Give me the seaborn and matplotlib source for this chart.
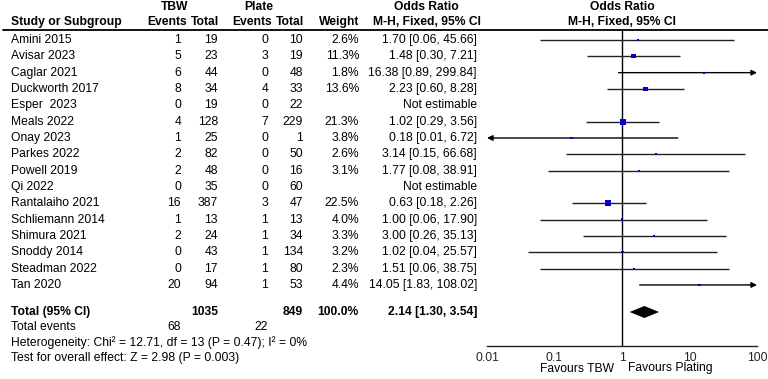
import numpy as np
import pandas as pd
import matplotlib
matplotlib.use('Agg')
import matplotlib.pyplot as plt
from matplotlib.ticker import NullLocator
import seaborn as sns

studies = ['Amini 2015', 'Avisar 2023', 'Caglar 2021', 'Duckworth 2017', 'Esper  2023',
           'Meals 2022', 'Onay 2023', 'Parkes 2022', 'Powell 2019', 'Qi 2022',
           'Rantalaiho 2021', 'Schliemann 2014', 'Shimura 2021', 'Snoddy 2014',
           'Steadman 2022', 'Tan 2020']
tbw_events = [1, 5, 6, 8, 0, 4, 1, 2, 2, 0, 16, 1, 2, 0, 0, 20]
tbw_total = [19, 23, 44, 34, 19, 128, 25, 82, 48, 35, 387, 13, 24, 43, 17, 94]
plate_events = [0, 3, 0, 4, 0, 7, 0, 0, 0, 0, 3, 1, 1, 1, 1, 1]
plate_total = [10, 19, 48, 33, 22, 229, 1, 50, 16, 60, 47, 13, 34, 134, 80, 53]
weight = [2.6, 11.3, 1.8, 13.6, np.nan, 21.3, 3.8, 2.6, 3.1, np.nan, 22.5, 4.0, 3.3, 3.2, 2.3, 4.4]
odds = [1.70, 1.48, 16.38, 2.23, np.nan, 1.02, 0.18, 3.14, 1.77, np.nan, 0.63, 1.00, 3.00, 1.02, 1.51, 14.05]
ci_lo = [0.06, 0.30, 0.89, 0.60, np.nan, 0.29, 0.01, 0.15, 0.08, np.nan, 0.18, 0.06, 0.26, 0.04, 0.06, 1.83]
ci_hi = [45.66, 7.21, 299.84, 8.28, np.nan, 3.56, 6.72, 66.68, 38.91, np.nan, 2.26, 17.90, 35.13, 25.57, 38.75, 108.02]

total_weight = 100.0
pooled_or, pooled_lo, pooled_hi = 2.14, 1.30, 3.54
het_text = 'Heterogeneity: Chi² = 12.71, df = 13 (P = 0.47); I² = 0%'
test_text = 'Test for overall effect: Z = 2.98 (P = 0.003)'
axis_ticks = [0.01, 0.1, 1, 10, 100]
axis_labels = ['0.01', '0.1', '1', '10', '100']

sns.set_style('white')
plt.rcParams['font.family'] = ['Liberation Sans', 'DejaVu Sans']
FS = 8.7

W, H = 768, 379
fig = plt.figure(figsize=(W / 100, H / 100), dpi=100)

# table layer in pixel coords
tab = fig.add_axes([0, 0, 1, 1])
tab.set_xlim(0, W)
tab.set_ylim(H, 0)
tab.axis('off')

def txt(x, y, s, ha='right', bold=False):
    tab.text(x, y, s, ha=ha, va='center', fontsize=FS,
             fontweight='bold' if bold else 'normal', color='black')

# headers
txt(175, 7, 'TBW', 'center', True)
txt(259, 7, 'Plate', 'center', True)
txt(426, 7, 'Odds Ratio', 'center', True)
txt(622, 7, 'Odds Ratio', 'center', True)
txt(11, 22, 'Study or Subgroup', 'left', True)
txt(187, 22, 'Events', 'right', True)
txt(219, 22, 'Total', 'right', True)
txt(272, 22, 'Events', 'right', True)
txt(304, 22, 'Total', 'right', True)
txt(359, 22, 'Weight', 'right', True)
txt(481, 22, 'M-H, Fixed, 95% CI', 'right', True)
txt(622, 22, 'M-H, Fixed, 95% CI', 'center', True)
tab.plot([3, W], [29.5, 29.5], color='black', lw=1.3)

row_y = 40 + 16.33 * np.arange(len(studies))
for i, y in enumerate(row_y):
    txt(11, y, studies[i], 'left')
    txt(181, y, str(tbw_events[i]))
    txt(218, y, str(tbw_total[i]))
    txt(268, y, str(plate_events[i]))
    txt(303, y, str(plate_total[i]))
    if np.isnan(odds[i]):
        txt(477, y, 'Not estimable')
    else:
        txt(359, y, f'{weight[i]:.1f}%')
        txt(477, y, f'{odds[i]:.2f} [{ci_lo[i]:.2f}, {ci_hi[i]:.2f}]')

y_tot, y_ev, y_het, y_test = 312, 327.5, 343, 358.5
txt(11, y_tot, 'Total (95% CI)', 'left', True)
txt(218, y_tot, str(sum(tbw_total)), 'right', True)
txt(303, y_tot, str(sum(plate_total)), 'right', True)
txt(359, y_tot, f'{total_weight:.1f}%', 'right', True)
txt(477, y_tot, f'{pooled_or:.2f} [{pooled_lo:.2f}, {pooled_hi:.2f}]', 'right', True)
txt(11, y_ev, 'Total events', 'left')
txt(181, y_ev, str(sum(tbw_events)))
txt(268, y_ev, str(sum(plate_events)))
txt(11, y_het, het_text, 'left')
txt(11, y_test, test_text, 'left')

# forest panel
x0, x1, ytop, ybot = 487, 757, 29.5, 346
ax = fig.add_axes([x0 / W, (H - ybot) / H, (x1 - x0) / W, (ybot - ytop) / H])
ax.patch.set_alpha(0)
ax.set_xscale('log')
ax.set_xlim(0.01, 100)
ax.set_ylim(ybot, ytop)
for s in ['top', 'left', 'right']:
    ax.spines[s].set_visible(False)
ax.spines['bottom'].set_linewidth(1)
ax.spines['bottom'].set_color('#222222')
ax.set_yticks([])
ax.set_xticks(axis_ticks)
ax.set_xticklabels(axis_labels, fontsize=FS)
ax.xaxis.set_minor_locator(NullLocator())
ax.tick_params(axis='x', direction='inout', length=7, width=1, color='#222222', pad=0.5)
ax.axvline(1, color='black', lw=1, zorder=1)

lo_lim, hi_lim = 0.01, 100
for i, y in enumerate(row_y):
    if np.isnan(odds[i]):
        continue
    lo, hi = ci_lo[i], ci_hi[i]
    left_arrow = lo <= lo_lim
    right_arrow = hi > hi_lim
    a, b = max(lo, lo_lim), min(hi, hi_lim)
    if right_arrow:
        ax.annotate('', xy=(b, y), xytext=(a, y), annotation_clip=False,
                    arrowprops=dict(arrowstyle='-|>', color='black', lw=1,
                                    mutation_scale=8, shrinkA=0, shrinkB=0))
    elif left_arrow:
        ax.annotate('', xy=(a, y), xytext=(b, y), annotation_clip=False,
                    arrowprops=dict(arrowstyle='-|>', color='black', lw=1,
                                    mutation_scale=8, shrinkA=0, shrinkB=0))
    else:
        ax.hlines(y, a, b, color='#222222', lw=1, zorder=2)

df = pd.DataFrame({'odds': odds, 'y': row_y, 'weight': weight}).dropna()
k = 0.85
sns.scatterplot(data=df, x='odds', y='y', size='weight',
                sizes=(df['weight'].min() * k, df['weight'].max() * k),
                marker='s', color='#0000cc', linewidth=0, legend=False,
                ax=ax, zorder=3)
ax.set_xlabel('')
ax.set_ylabel('')

ax.fill([pooled_lo, pooled_or, pooled_hi, pooled_or],
        [y_tot, y_tot - 6, y_tot, y_tot + 6], color='black', zorder=3, lw=0)

txt(614, 368.5, 'Favours TBW', 'right')
txt(628, 368.5, 'Favours Plating', 'left')

fig.savefig('out.png', dpi=100)
